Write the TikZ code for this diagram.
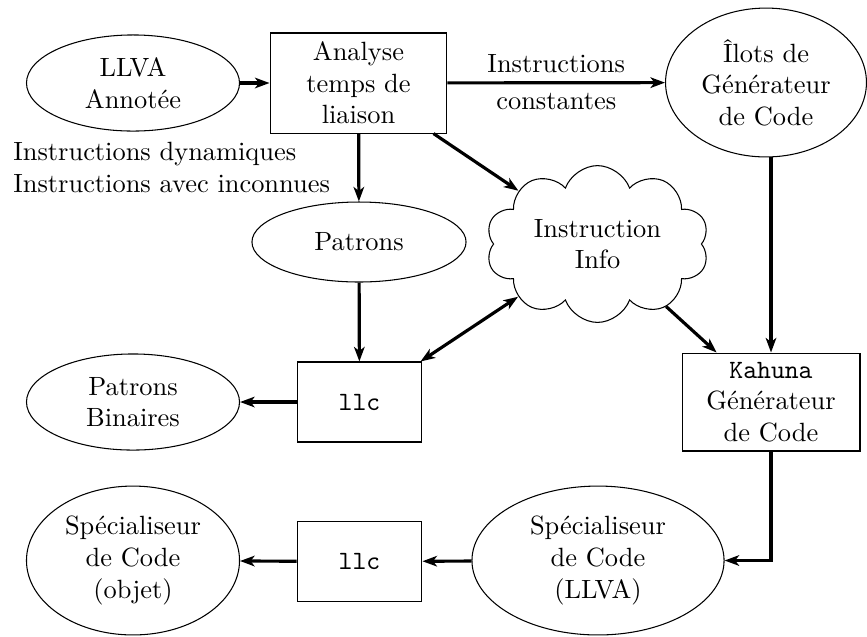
\documentclass[tikz,border=0pt]{standalone}
\usepackage{fontspec}
\usetikzlibrary{shapes.geometric,shapes.symbols,arrows.meta}
\begin{document}
\begin{tikzpicture}[x=0.3788pt,y=-0.3788pt,
  ell/.style={draw,ellipse,inner sep=0pt,align=center},
  boxn/.style={draw,rectangle,inner sep=0pt,align=center},
  tip/.tip={Stealth[length=5.5pt,width=4pt,inset=1.5pt]},
  conn/.style={very thick,-tip},
  dconn/.style={very thick,tip-tip}]
\useasboundingbox (0,0) rectangle (867,636);
\node[ell,minimum width=80.7pt,minimum height=36.4pt] (llva) at (133,83) {LLVA\\Annotée};
\node[boxn,minimum width=67pt,minimum height=37.9pt] (analyse) at (358.5,83) {Analyse\\temps de\\liaison};
\node[ell,minimum width=76.1pt,minimum height=56.4pt] (ilots) at (766,82.5) {Îlots de\\Générateur\\de Code};
\node[ell,minimum width=81.1pt,minimum height=30.3pt] (patrons) at (359,242) {Patrons};
\node[draw,cloud,cloud puffs=10,cloud puff arc=140,aspect=1.45,inner sep=0pt,align=center,minimum width=84.5pt,minimum height=58.3pt] (info) at (597.5,244) {Instruction\\Info};
\node[boxn,minimum width=47.3pt,minimum height=30.3pt] (llca) at (359.5,402) {\texttt{llc}};
\node[ell,minimum width=80.7pt,minimum height=36.4pt] (patbin) at (133,402) {Patrons\\Binaires};
\node[boxn,minimum width=67.4pt,minimum height=37.1pt] (kahuna) at (771,402) {\texttt{Kahuna}\\Générateur\\de Code};
\node[ell,minimum width=95.5pt,minimum height=56.4pt] (specllva) at (598,560.5) {Spécialiseur\\de Code\\(LLVA)};
\node[boxn,minimum width=47.3pt,minimum height=30.3pt] (llcb) at (359.5,561.5) {\texttt{llc}};
\node[ell,minimum width=80.7pt,minimum height=56.4pt] (specobj) at (133,560.5) {Spécialiseur\\de Code\\(objet)};

\draw[conn] (llva) -- (analyse);
\draw[conn] (analyse) -- node[above] {Instructions} node[below] {constantes} (ilots);
\draw[conn] (analyse) -- node[midway,left=7pt,align=left] {Instructions dynamiques\\Instructions avec inconnues} (patrons);
\draw[conn] (analyse) -- (info);
\draw[conn] (patrons) -- (llca);
\draw[dconn] (llca) -- (info);
\draw[conn] (info) -- (kahuna);
\draw[conn] (ilots.south -| kahuna.north) -- (kahuna.north);
\draw[conn] (llca) -- (patbin);
\draw[conn] (kahuna) |- (specllva);
\draw[conn] (specllva) -- (llcb);
\draw[conn] (llcb) -- (specobj);
\end{tikzpicture}
\end{document}
